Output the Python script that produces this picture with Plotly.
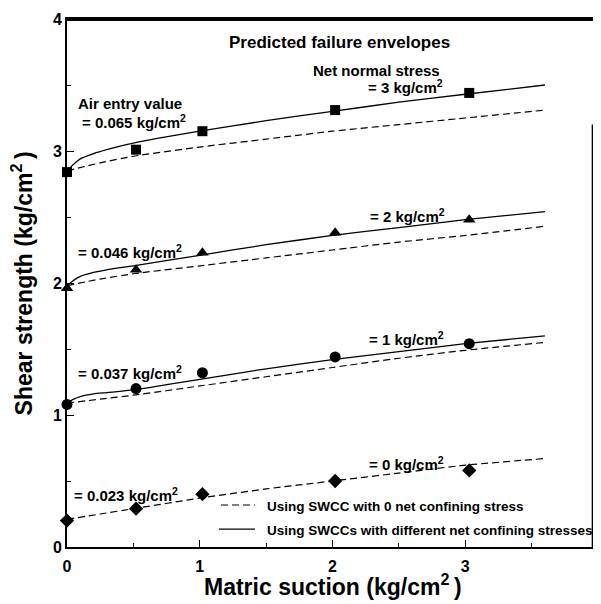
import plotly.graph_objects as go

# ---- measured points (net normal stress series) ----
suction_pts = [0.0, 0.52, 1.02, 2.02, 3.03]
tau_3 = [2.84, 3.01, 3.15, 3.31, 3.44]
tau_2 = [1.96, 2.10, 2.23, 2.38, 2.48]
tau_1 = [1.08, 1.20, 1.32, 1.44, 1.54]
tau_0 = [0.20, 0.29, 0.40, 0.50, 0.58]

# ---- predicted envelopes, values ----
x_dash = [0.0, 0.25, 0.5, 1.0, 1.5, 2.0, 2.5, 3.0, 3.6]
dash_3 = [2.85, 2.91, 2.96, 3.03, 3.09, 3.15, 3.20, 3.25, 3.31]
dash_2 = [1.98, 2.03, 2.07, 2.13, 2.19, 2.25, 2.31, 2.36, 2.43]
dash_1 = [1.09, 1.12, 1.15, 1.22, 1.29, 1.36, 1.43, 1.49, 1.55]
dash_0 = [0.21, 0.25, 0.29, 0.37, 0.44, 0.50, 0.56, 0.62, 0.67]

x_solid = [0.0, 0.05, 0.1, 0.2, 0.3, 0.5, 1.0, 1.5, 2.0, 2.5, 3.0, 3.6]
solid_3 = [2.85, 2.90, 2.94, 2.98, 3.01, 3.06, 3.15, 3.23, 3.30, 3.37, 3.43, 3.50]
solid_2 = [1.98, 2.02, 2.05, 2.08, 2.10, 2.13, 2.21, 2.29, 2.36, 2.42, 2.48, 2.54]
solid_1 = [1.09, 1.12, 1.14, 1.16, 1.17, 1.19, 1.27, 1.35, 1.42, 1.48, 1.54, 1.60]

x_ticks = [0, 1, 2, 3, 4]
y_ticks = [0, 1, 2, 3, 4]

FONT = "Liberation Sans, Arial, sans-serif"
fig = go.Figure()

for ys in [dash_3, dash_2, dash_1, dash_0]:
    fig.add_trace(go.Scatter(x=x_dash, y=ys, mode="lines",
                             line=dict(color="black", width=1.2, dash="7px,4px", shape="spline", smoothing=0.6),
                             showlegend=False, hoverinfo="skip"))
for ys in [solid_3, solid_2, solid_1]:
    fig.add_trace(go.Scatter(x=x_solid, y=ys, mode="lines",
                             line=dict(color="black", width=1.3, shape="spline", smoothing=0.6),
                             showlegend=False, hoverinfo="skip"))

for ys, sym, sz in [(tau_3, "square", 10), (tau_2, "triangle-up", 11),
                    (tau_1, "circle", 11), (tau_0, "diamond", 11)]:
    fig.add_trace(go.Scatter(x=suction_pts, y=ys, mode="markers",
                             marker=dict(symbol=sym, size=sz, color="black"),
                             showlegend=False, cliponaxis=False))


def txt(x, y, s, xa="left", size=15):
    fig.add_annotation(x=x, y=y, xref="x", yref="y", text="<b>" + s + "</b>",
                       xanchor=xa, yanchor="middle", showarrow=False,
                       font=dict(family=FONT, size=size, color="black"))

SUP = "kg/cm<sup>2</sup>"
txt(2.05, 3.82, "Predicted failure envelopes", xa="center", size=17)
txt(2.33, 3.61, "Net normal stress", xa="center")
txt(2.25, 3.49, "= 3 " + SUP)
txt(0.07, 3.36, "Air entry value")
txt(0.10, 3.22, "= 0.065 " + SUP)
txt(0.07, 2.24, "= 0.046 " + SUP)
txt(2.27, 2.51, "= 2 " + SUP)
txt(0.07, 1.32, "= 0.037 " + SUP)
txt(2.26, 1.58, "= 1 " + SUP)
txt(0.035, 0.40, "= 0.023 " + SUP)
txt(2.26, 0.63, "= 0 " + SUP)

# legend drawn by hand
fig.add_shape(type="line", x0=1.16, x1=1.416, y0=0.318, y1=0.318,
              line=dict(color="black", width=1.2, dash="7px,4px"))
fig.add_shape(type="line", x0=1.145, x1=1.416, y0=0.136, y1=0.136,
              line=dict(color="black", width=1.3))
txt(1.49, 0.305, "Using SWCC with 0 net confining stress", size=13.5)
txt(1.49, 0.125, "Using SWCCs with different net confining stresses", size=13.5)

# frame: top border and (partial) right border, as in the original
fig.add_shape(type="line", xref="x", yref="y", x0=0, x1=4, y0=3.995, y1=3.995,
              line=dict(color="black", width=2.5))
fig.add_shape(type="line", xref="x", yref="y", x0=3.96, x1=3.96, y0=0, y1=3.2,
              line=dict(color="black", width=2))

# axis titles
fig.add_annotation(xref="paper", yref="paper", x=0.50, y=-0.072, yanchor="middle",
                   text="<b>Matric suction (kg/cm<sup>2 </sup>)</b>", showarrow=False,
                   font=dict(family=FONT, size=23, color="black"))
fig.add_annotation(xref="paper", yref="paper", x=-0.084, y=0.5, xanchor="center",
                   textangle=-90, text="<b>Shear strength (kg/cm<sup>2 </sup>)</b>", showarrow=False,
                   font=dict(family=FONT, size=23, color="black"))

axis_common = dict(range=[0, 4], showgrid=False, zeroline=False, showline=True,
                   linecolor="black", linewidth=2, ticks="inside", ticklen=7, tickwidth=1.2,
                   tickcolor="black", tickfont=dict(family=FONT, size=16, color="black", weight="bold"),
                   minor=dict(ticks="inside", ticklen=4, tickwidth=1.2, tickcolor="black", dtick=0.5))
fig.update_xaxes(**axis_common, tickvals=x_ticks, ticktext=[str(v) for v in x_ticks],
                 ticklabelstandoff=4, mirror=True)
fig.update_yaxes(**axis_common, tickvals=y_ticks, ticktext=[str(v) for v in y_ticks])

# the page body adds an 8px offset; size/margins compensate so the frame lands where the original is
fig.update_layout(width=593, height=596, margin=dict(l=59, r=3, t=11, b=57),
                  plot_bgcolor="white", paper_bgcolor="white", showlegend=False)

fig.write_html("out.html")
